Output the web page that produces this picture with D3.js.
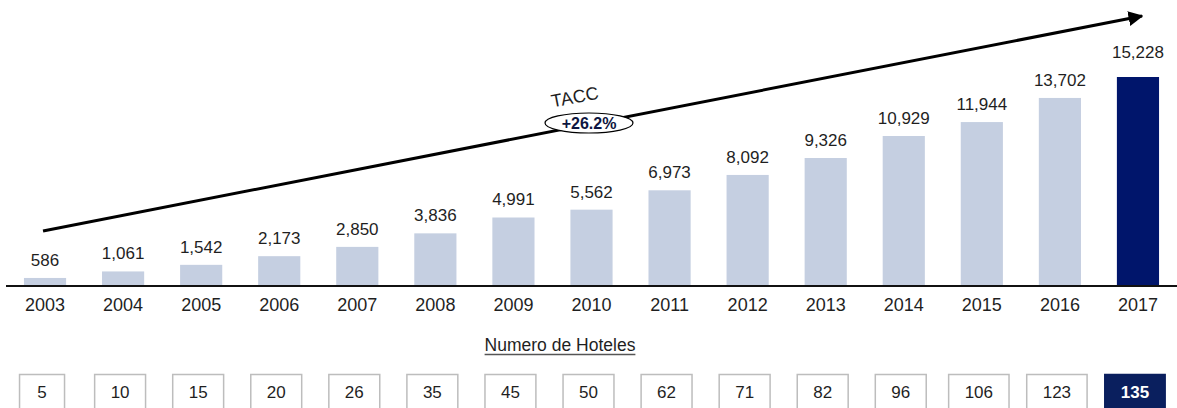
<!DOCTYPE html>
<html>
<head>
<meta charset="utf-8">
<script src="https://cdn.jsdelivr.net/npm/d3@7"></script>
<style>
  body { margin: 0; background: #fff; }
  svg { display: block; font-family: "Liberation Sans", Arial, sans-serif; }
</style>
</head>
<body>
<div id="chart"></div>
<script>
// Data
const years = ["2003", "2004", "2005", "2006", "2007", "2008", "2009", "2010",
               "2011", "2012", "2013", "2014", "2015", "2016", "2017"];
const rooms = [586, 1061, 1542, 2173, 2850, 3836, 4991, 5562,
               6973, 8092, 9326, 10929, 11944, 13702, 15228];
const hotels = [5, 10, 15, 20, 26, 35, 45, 50, 62, 71, 82, 96, 106, 123, 135];
const highlightYear = "2017";
const caggLabel = "TACC";
const caggValue = "+26.2%";
const hotelsTitle = "Numero de Hoteles";

const width = 1177, height = 408;
const baseY = 286;
const lightBar = "#c5cfe1", darkBar = "#00156b", textColor = "#1f1f1f";

const svg = d3.select("#chart")
    .append("svg")
    .attr("width", width)
    .attr("height", height);

// Scales
const x = d3.scaleBand()
    .domain(years)
    .range([6, 1177])
    .paddingInner(0.46)
    .paddingOuter(0.23);

const y = d3.scaleLinear()
    .domain([0, 15228])
    .range([baseY, baseY - 209]);

const fmt = d3.format(",");

// Bars
svg.selectAll(".bar")
    .data(years)
    .join("rect")
    .attr("class", "bar")
    .attr("x", d => x(d))
    .attr("y", (d, i) => y(rooms[i]))
    .attr("width", x.bandwidth())
    .attr("height", (d, i) => baseY - y(rooms[i]))
    .attr("fill", d => d === highlightYear ? darkBar : lightBar);

// Value labels
svg.selectAll(".val")
    .data(years)
    .join("text")
    .attr("class", "val")
    .attr("x", d => x(d) + x.bandwidth() / 2)
    .attr("y", (d, i) => y(rooms[i]) - (d === highlightYear ? 19 : 12))
    .attr("text-anchor", "middle")
    .attr("font-size", 17)
    .attr("fill", textColor)
    .text((d, i) => fmt(rooms[i]));

// Baseline + year axis
const xAxis = svg.append("g")
    .attr("transform", `translate(0, ${baseY})`)
    .call(d3.axisBottom(x).tickSize(0).tickPadding(10));
xAxis.select(".domain").attr("d", "M6,0H1177").attr("stroke", "#111").attr("stroke-width", 2);
xAxis.selectAll("text")
    .attr("font-size", 18)
    .attr("font-family", "Liberation Sans, Arial, sans-serif")
    .attr("fill", textColor)
    .attr("dy", "0.85em");

// Growth arrow
const defs = svg.append("defs");
defs.append("marker")
    .attr("id", "arrowhead")
    .attr("viewBox", "0 0 10 10")
    .attr("refX", 9)
    .attr("refY", 5)
    .attr("markerWidth", 5)
    .attr("markerHeight", 5)
    .attr("orient", "auto")
    .append("path")
    .attr("d", "M0,0L10,5L0,10z")
    .attr("fill", "#000");

const arrowStart = [x(years[0]) + x.bandwidth() / 2 - 2, 231];
const arrowEnd = [1142, 16];
svg.append("line")
    .attr("x1", arrowStart[0])
    .attr("y1", arrowStart[1])
    .attr("x2", arrowEnd[0])
    .attr("y2", arrowEnd[1])
    .attr("stroke", "#000")
    .attr("stroke-width", 3)
    .attr("marker-end", "url(#arrowhead)");

const angle = Math.atan2(arrowEnd[1] - arrowStart[1], arrowEnd[0] - arrowStart[0]) * 180 / Math.PI;

// CAGR callout
svg.append("ellipse")
    .attr("cx", 589)
    .attr("cy", 123)
    .attr("rx", 44)
    .attr("ry", 10)
    .attr("fill", "#fff")
    .attr("stroke", "#000")
    .attr("stroke-width", 1.2);

svg.append("text")
    .attr("x", 589)
    .attr("y", 129)
    .attr("text-anchor", "middle")
    .attr("font-size", 16)
    .attr("font-weight", "bold")
    .attr("fill", "#0d1540")
    .text(caggValue);

svg.append("text")
    .attr("transform", `translate(576, 103) rotate(${angle})`)
    .attr("text-anchor", "middle")
    .attr("font-size", 18)
    .attr("fill", textColor)
    .text(caggLabel);

// Hotels section title
const title = svg.append("text")
    .attr("x", 560)
    .attr("y", 351)
    .attr("text-anchor", "middle")
    .attr("font-size", 17.5)
    .attr("fill", textColor)
    .text(hotelsTitle);
const tw = title.node().getComputedTextLength();
svg.append("line")
    .attr("x1", 560 - tw / 2)
    .attr("x2", 560 + tw / 2)
    .attr("y1", 354.5)
    .attr("y2", 354.5)
    .attr("stroke", "#555")
    .attr("stroke-width", 1.5);

// Hotel count boxes
const boxes = svg.selectAll(".hotel")
    .data(years)
    .join("g")
    .attr("class", "hotel")
    .attr("transform", d => `translate(${x(d) + x.bandwidth() / 2 - 3}, 0)`);

boxes.append("text")
    .attr("y", 398)
    .attr("text-anchor", "middle")
    .attr("font-size", 17)
    .attr("font-weight", d => d === highlightYear ? "bold" : "normal")
    .attr("fill", d => d === highlightYear ? "#fff" : textColor)
    .text((d, i) => hotels[i]);

boxes.each(function(d) {
    const g = d3.select(this);
    const w = Math.max(45, g.select("text").node().getComputedTextLength() + 32);
    g.insert("rect", "text")
        .attr("x", -w / 2)
        .attr("y", 374.5)
        .attr("width", w)
        .attr("height", 40)
        .attr("fill", d === highlightYear ? "#0a1f5e" : "#fff")
        .attr("stroke", d === highlightYear ? "#0a1f5e" : "#bdbdbd")
        .attr("stroke-width", 1.5);
});
</script>
</body>
</html>
